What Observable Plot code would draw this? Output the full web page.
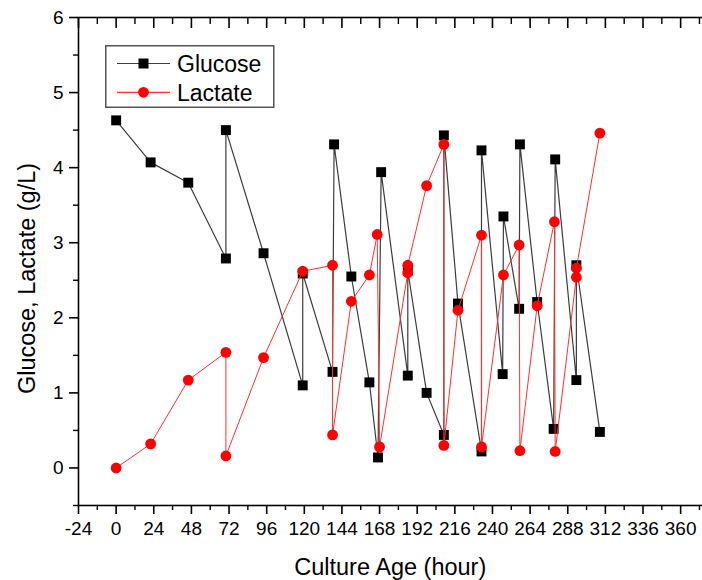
<!DOCTYPE html>
<html>
<head>
<meta charset="utf-8">
<script src="https://cdn.jsdelivr.net/npm/d3@7"></script>
<script src="https://cdn.jsdelivr.net/npm/@observablehq/plot@0.6"></script>
<style>
  html, body { margin: 0; padding: 0; background: white; }
  #wrap { position: relative; width: 702px; height: 580px; overflow: hidden; font-family: "Liberation Sans", Arial, sans-serif; }
  #legend { position: absolute; left: 105px; top: 45px; }
</style>
</head>
<body>
<div id="wrap"></div>
<script>
// Glucose series (hour, g/L), in sampling order
const glucoseHours = [0, 22, 46, 70, 70, 94, 119, 119, 138, 139, 150, 161.5, 167, 169, 186, 186, 198, 209, 209, 218, 233, 233, 246.5, 247, 257, 257.5, 268.5, 279, 280, 293.5, 293.5, 308.5];
const glucoseValues = [4.63, 4.07, 3.80, 2.79, 4.50, 2.86, 1.10, 2.59, 1.28, 4.31, 2.55, 1.14, 0.14, 3.94, 1.23, 2.63, 1.00, 0.44, 4.43, 2.19, 0.22, 4.23, 1.25, 3.35, 2.12, 4.31, 2.21, 0.52, 4.11, 1.17, 2.70, 0.48];

// Lactate series (hour, g/L), in sampling order
const lactateHours = [0, 22, 46, 70, 70, 94, 119, 138, 138, 150, 161.5, 166.5, 168, 186, 186, 198, 209, 209, 218, 233, 233, 247, 257, 257.5, 268.5, 279.5, 280, 293.5, 293.5, 308.5];
const lactateValues = [0, 0.32, 1.17, 1.54, 0.16, 1.47, 2.62, 2.70, 0.44, 2.22, 2.57, 3.11, 0.28, 2.60, 2.70, 3.76, 4.31, 0.30, 2.10, 3.10, 0.28, 2.57, 2.97, 0.23, 2.16, 3.28, 0.22, 2.54, 2.66, 4.46];

// Axis ticks
const xMajorTicks = [-24, 0, 24, 48, 72, 96, 120, 144, 168, 192, 216, 240, 264, 288, 312, 336, 360];
const xMinorTicks = [-12, 12, 36, 60, 84, 108, 132, 156, 180, 204, 228, 252, 276, 300, 324, 348, 372];
const yMajorTicks = [0, 1, 2, 3, 4, 5, 6];
const yMinorTicks = [-0.5, 0.5, 1.5, 2.5, 3.5, 4.5, 5.5];

const seriesNames = ["Glucose", "Lactate"];

const glucose = glucoseHours.map((h, i) => ({hour: h, value: glucoseValues[i]}));
const lactate = lactateHours.map((h, i) => ({hour: h, value: lactateValues[i]}));

const FONT = "Liberation Sans, Arial, sans-serif";
const glucoseLine = "#3c3c3c";
const lactateLine = "#ff3030";

const chart = Plot.plot({
  width: 702,
  height: 580,
  marginLeft: 78,
  marginRight: -9.5,
  marginTop: 17,
  marginBottom: 75,
  style: {fontFamily: FONT, background: "white", color: "black"},
  x: {domain: [-24, 380]},
  y: {domain: [-0.5, 6]},
  marks: [
    Plot.frame({stroke: "black", strokeWidth: 1.6}),
    // bottom axis
    Plot.axisX({anchor: "bottom", ticks: xMajorTicks, tickSize: 9, tickPadding: 7, strokeWidth: 1.6,
      tickFormat: d => String(d), fontSize: 19, label: null}),
    Plot.axisX({anchor: "bottom", ticks: xMinorTicks, tickSize: 5, strokeWidth: 1.4, fill: "none", label: null}),
    // top axis (inward ticks)
    Plot.axisX({anchor: "top", ticks: xMajorTicks, tickSize: -10, strokeWidth: 1.6, fill: "none", label: null}),
    Plot.axisX({anchor: "top", ticks: xMinorTicks, tickSize: -6, strokeWidth: 1.4, fill: "none", label: null}),
    // left axis
    Plot.axisY({anchor: "left", ticks: yMajorTicks, tickSize: 9, tickPadding: 6, strokeWidth: 1.6,
      tickFormat: d => String(d), fontSize: 19, label: null}),
    Plot.axisY({anchor: "left", ticks: yMinorTicks, tickSize: 5, strokeWidth: 1.4, fill: "none", label: null}),
    // right axis (inward ticks)
    Plot.axisY({anchor: "right", ticks: yMajorTicks, tickSize: -10, strokeWidth: 1.6, fill: "none", label: null}),
    Plot.axisY({anchor: "right", ticks: yMinorTicks, tickSize: -6, strokeWidth: 1.4, fill: "none", label: null}),
    // axis titles
    Plot.text(["Culture Age (hour)"], {frameAnchor: "bottom", dy: 62, dx: -5, fontSize: 23.5, fill: "black", lineAnchor: "middle", textAnchor: "middle"}),
    Plot.text(["Glucose, Lactate (g/L)"], {frameAnchor: "left", dx: -51, dy: 17, rotate: -90, fontSize: 23.5, fill: "black", lineAnchor: "middle", textAnchor: "middle"}),
    // series
    Plot.line(glucose, {x: "hour", y: "value", stroke: glucoseLine, strokeWidth: 1.2}),
    Plot.dot(glucose, {x: "hour", y: "value", symbol: "square", r: 5.6, fill: "black", stroke: "none"}),
    Plot.line(lactate, {x: "hour", y: "value", stroke: lactateLine, strokeWidth: 1}),
    Plot.dot(lactate, {x: "hour", y: "value", symbol: "circle", r: 5.4, fill: "#ff0000", stroke: "none"})
  ]
});

const wrap = document.getElementById("wrap");
wrap.appendChild(chart);

// Legend (inside the plot area, top-left)
const ns = "http://www.w3.org/2000/svg";
const leg = document.createElementNS(ns, "svg");
leg.setAttribute("id", "legend");
leg.setAttribute("width", 170);
leg.setAttribute("height", 63);
const box = document.createElementNS(ns, "rect");
box.setAttribute("x", 0.75); box.setAttribute("y", 0.75);
box.setAttribute("width", 168); box.setAttribute("height", 61.5);
box.setAttribute("fill", "white"); box.setAttribute("stroke", "#555"); box.setAttribute("stroke-width", 1.5);
leg.appendChild(box);
const rows = [
  {name: seriesNames[0], y: 18.5, color: glucoseLine, marker: "square"},
  {name: seriesNames[1], y: 47.3, color: lactateLine, marker: "circle"}
];
for (const r of rows) {
  const ln = document.createElementNS(ns, "line");
  ln.setAttribute("x1", 12); ln.setAttribute("x2", 65);
  ln.setAttribute("y1", r.y); ln.setAttribute("y2", r.y);
  ln.setAttribute("stroke", r.color); ln.setAttribute("stroke-width", 1.2);
  leg.appendChild(ln);
  if (r.marker === "square") {
    const s = document.createElementNS(ns, "rect");
    s.setAttribute("x", 38.5 - 5); s.setAttribute("y", r.y - 5);
    s.setAttribute("width", 10); s.setAttribute("height", 10);
    s.setAttribute("fill", "black");
    leg.appendChild(s);
  } else {
    const c = document.createElementNS(ns, "circle");
    c.setAttribute("cx", 38.5); c.setAttribute("cy", r.y); c.setAttribute("r", 5.4);
    c.setAttribute("fill", "#ff0000");
    leg.appendChild(c);
  }
  const t = document.createElementNS(ns, "text");
  t.setAttribute("x", 72); t.setAttribute("y", r.y);
  t.setAttribute("dy", "0.36em");
  t.setAttribute("font-size", 23);
  t.setAttribute("font-family", FONT);
  t.setAttribute("fill", "black");
  t.textContent = r.name;
  leg.appendChild(t);
}
wrap.appendChild(leg);
</script>
</body>
</html>
